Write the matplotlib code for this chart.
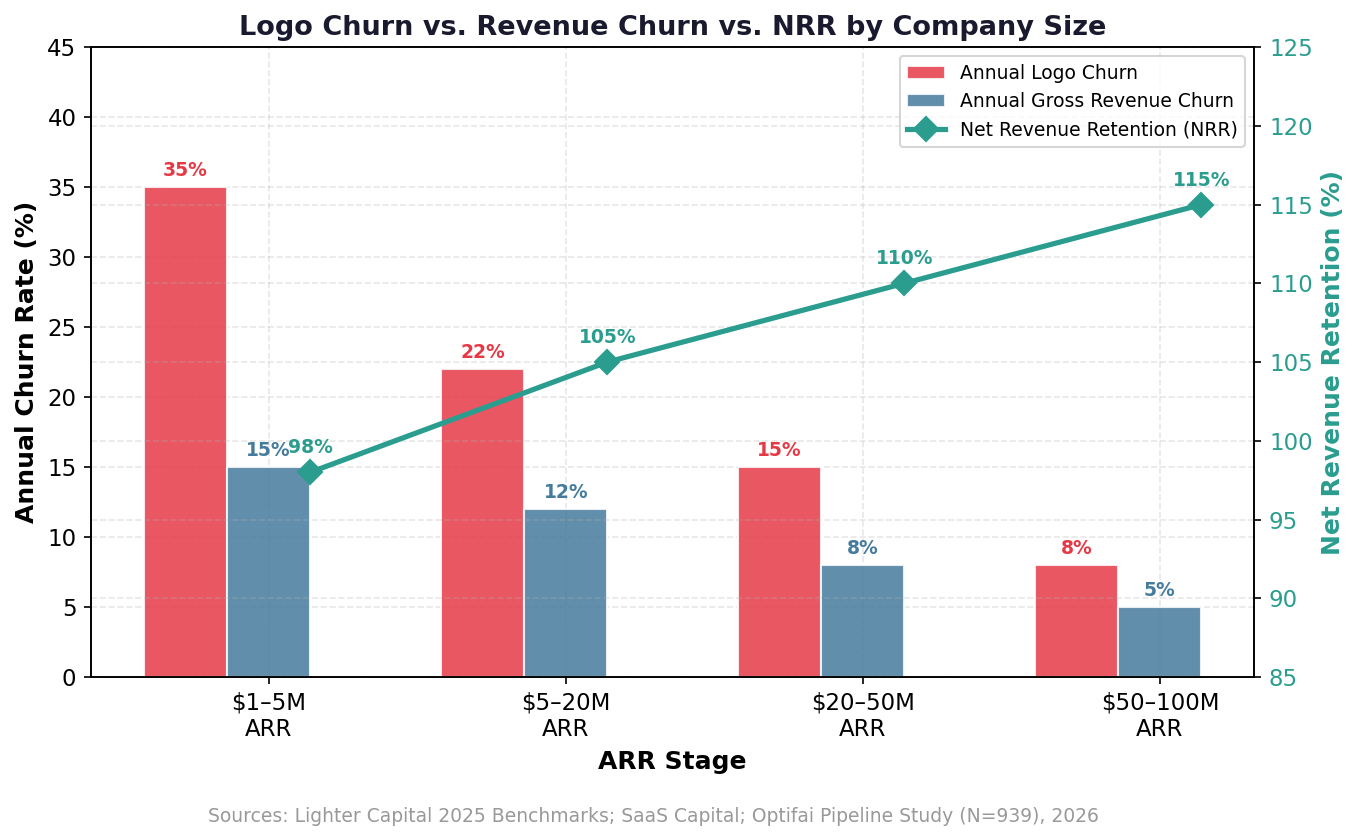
import numpy as np
import matplotlib.pyplot as plt

stages = ["$1–5M\nARR", "$5–20M\nARR", "$20–50M\nARR", "$50–100M\nARR"]
logo_churn = [35, 22, 15, 8]
revenue_churn = [15, 12, 8, 5]
nrr = [98, 105, 110, 115]

red = "#e63946"
blue = "#457b9d"
teal = "#2a9d8f"

x = np.arange(len(stages))
w = 0.28

fig, ax = plt.subplots(figsize=(9.06, 5.6), dpi=150)
fig.subplots_adjust(left=0.067, right=0.923, top=0.944, bottom=0.194)

b1 = ax.bar(x - w, logo_churn, w, color=red, alpha=0.85, edgecolor="white", linewidth=1,
            label="Annual Logo Churn")
b2 = ax.bar(x, revenue_churn, w, color=blue, alpha=0.85, edgecolor="white", linewidth=1,
            label="Annual Gross Revenue Churn")
for xi, v in zip(x - w, logo_churn):
    ax.text(xi, v + 0.5, f"{v}%", ha="center", va="bottom", fontsize=9, fontweight="bold", color=red)
for xi, v in zip(x, revenue_churn):
    ax.text(xi, v + 0.5, f"{v}%", ha="center", va="bottom", fontsize=9, fontweight="bold", color=blue)

ax.set_ylim(0, 45)
ax.set_xticks(x)
ax.set_xticklabels(stages, fontsize=11)
ax.tick_params(axis="y", labelsize=11)
ax.set_ylabel("Annual Churn Rate (%)", fontsize=12, fontweight="bold")
ax.set_xlabel("ARR Stage", fontsize=12, fontweight="bold")
ax.grid(True, linestyle="--", alpha=0.3)
ax.set_axisbelow(True)

ax2 = ax.twinx()
l1, = ax2.plot(x + w / 2, nrr, "D-", color=teal, linewidth=2.5, markersize=8,
               label="Net Revenue Retention (NRR)")
for xi, v in zip(x + w / 2, nrr):
    ax2.text(xi, v + 0.95, f"{v}%", ha="center", va="bottom", fontsize=9, fontweight="bold", color=teal)
ax2.set_ylim(85, 125)
ax2.set_ylabel("Net Revenue Retention (%)", fontsize=12, fontweight="bold", color=teal)
ax2.tick_params(axis="y", labelcolor=teal, labelsize=11)
ax2.grid(True, axis="y", linestyle="--", alpha=0.3)

ax.set_title("Logo Churn vs. Revenue Churn vs. NRR by Company Size", fontsize=13,
             fontweight="bold", color="#1a1a2e")
ax2.legend([b1, b2, l1], [b1.get_label(), b2.get_label(), l1.get_label()],
           loc="upper right", fontsize=9)

fig.text(0.4805, 0.022, "Sources: Lighter Capital 2025 Benchmarks; SaaS Capital; Optifai Pipeline Study (N=939), 2026",
         ha="center", fontsize=9, color="#999999")

plt.savefig("out.png")
